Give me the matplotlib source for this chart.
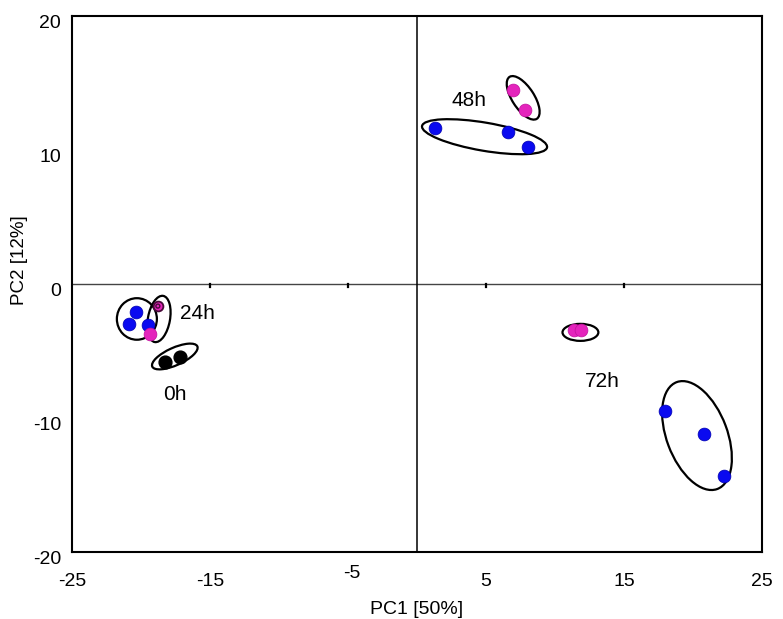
import matplotlib.pyplot as plt
import matplotlib.transforms as mtransforms
from matplotlib.patches import Ellipse

plt.rcParams['font.family'] = ['Liberation Sans', 'DejaVu Sans']

# scores PC1 / PC2
blue_x = [1.34, 6.62, 8.07, -20.37, -20.88, -19.5, 17.98, 20.8, 22.25]
blue_y = [11.64, 11.34, 10.22, -2.09, -2.99, -3.06, -9.48, -11.19, -14.33]
pink_x = [6.98, 7.85, -19.36, 11.4, 11.9]
pink_y = [14.48, 12.99, -3.73, -3.43, -3.43]
ring_x = [-18.78]
ring_y = [-1.64]
black_x = [-18.27, -17.18]
black_y = [-5.82, -5.45]

# confidence ellipses: centre x, centre y, width, height, angle
ell_cx = [-20.3, -18.7, -17.55, 4.9, 7.7, 11.85, 20.3]
ell_cy = [-2.6, -2.6, -5.4, 11.0, 13.9, -3.6, -11.3]
ell_w = [2.9, 3.5, 3.6, 9.2, 3.7, 2.6, 8.5]
ell_h = [3.1, 1.6, 1.3, 2.1, 1.6, 1.27, 4.4]
ell_ang = [0, 80, 25, -10, -58, 0, -70]

groups = ['48h', '24h', '0h', '72h']
group_x = [3.8, -15.9, -17.55, 13.4]
group_y = [13.7, -2.2, -8.2, -7.3]

xticks = [-25, -15, -5, 5, 15, 25]
yticks = [-20, -10, 0, 10, 20]

fig = plt.figure(figsize=(7.83, 6.19), dpi=100)
ax = fig.add_axes([0.092, 0.108, 0.881, 0.866])

ax.set_xlim(-25, 25)
ax.set_ylim(-20, 20)

ax.axhline(0, color='#444444', lw=1.0, zorder=1)
ax.axvline(0, color='black', lw=1.1, zorder=1)
# small ticks on the zero line
for xt in [-15, -5, 5, 15]:
    ax.plot([xt, xt], [0, -0.25], color='black', lw=1.6, zorder=1)

for cx, cy, w, h, a in zip(ell_cx, ell_cy, ell_w, ell_h, ell_ang):
    ax.add_patch(Ellipse((cx, cy), w, h, angle=a, fill=False,
                         edgecolor='black', lw=1.6, zorder=2))

ax.scatter(blue_x, blue_y, s=85, color='#0a0af0', edgecolors='#0000b0',
           linewidths=0.5, zorder=3)
ax.scatter(pink_x, pink_y, s=85, color='#e424bc', edgecolors='#c0109c',
           linewidths=0.5, zorder=3)
ax.scatter(black_x, black_y, s=85, color='black', zorder=3)
ax.scatter(ring_x, ring_y, s=50, color='#e424bc', edgecolors='#4a0a3a',
           linewidths=1.3, zorder=3)
ax.scatter(ring_x, ring_y, s=8, facecolors='none', edgecolors='#4a0a3a',
           linewidths=1.0, zorder=4)

for g, gx, gy in zip(groups, group_x, group_y):
    ax.text(gx, gy, g, fontsize=15, ha='center', va='center')

for s in ax.spines.values():
    s.set_linewidth(1.5)

ax.set_xticks(xticks)
ax.set_yticks(yticks)
ax.set_xticklabels([str(v) for v in xticks])
ax.set_yticklabels([str(v) for v in yticks])
ax.tick_params(length=0, labelsize=14)
ax.tick_params(axis='x', pad=15)
ax.tick_params(axis='y', pad=8)

# the "-5" label sits a little higher and to the right
lbl = ax.get_xticklabels()[2]
lbl.set_transform(lbl.get_transform() +
                  mtransforms.ScaledTranslation(0.04, 0.08, fig.dpi_scale_trans))
for lbl in ax.get_yticklabels():
    lbl.set_transform(lbl.get_transform() +
                      mtransforms.ScaledTranslation(0, -0.05, fig.dpi_scale_trans))

ax.set_xlabel('PC1 [50%]', fontsize=14, labelpad=8)
ax.set_ylabel('PC2 [12%]', fontsize=13.5)
ax.yaxis.set_label_coords(-0.064, 0.545)

fig.savefig('out.png', dpi=100)
